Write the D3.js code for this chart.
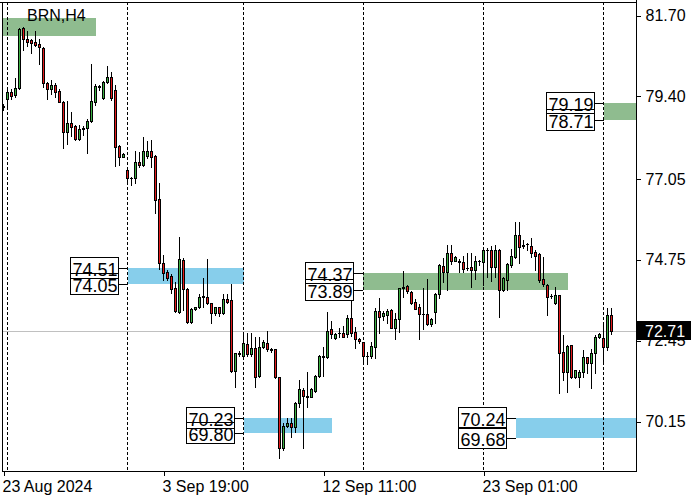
<!DOCTYPE html>
<html>
<head>
<meta charset="utf-8">
<script src="https://cdn.jsdelivr.net/npm/d3@7"></script>
<style>
  html, body { margin: 0; padding: 0; background: #fff; }
  svg { display: block; }
  text { font-family: "Liberation Sans", Arial, sans-serif; }
</style>
</head>
<body>
<script>
// ---------------- DATA ----------------
const symbolTitle = "BRN,H4";
const opens = [79.10,79.30,79.51,79.42,79.62,81.32,81.01,80.99,80.93,80.88,80.75,79.76,79.60,79.71,79.55,79.23,78.36,78.64,78.54,78.17,78.46,78.49,78.69,79.23,79.69,79.35,79.79,79.95,79.57,77.97,77.67,77.29,77.05,77.05,77.51,77.44,77.69,77.84,77.69,76.46,74.65,74.38,74.28,73.92,73.26,74.72,73.90,72.97,73.33,73.38,73.70,73.67,73.50,73.23,73.38,73.23,73.61,73.58,71.58,72.08,72.00,72.34,72.06,72.22,71.43,72.25,72.38,72.19,72.19,71.39,69.38,70.00,70.10,69.99,70.67,71.03,70.86,70.84,71.01,71.44,72.00,71.97,72.76,72.52,72.66,72.64,72.62,73.07,72.67,72.47,72.39,72.01,72.00,72.26,73.28,73.14,73.17,73.31,72.80,73.04,73.92,73.99,73.82,73.54,73.40,73.18,73.18,72.90,73.26,73.75,74.56,74.40,74.92,74.71,74.69,74.66,74.50,74.52,74.45,74.70,74.68,75.01,75.01,74.54,75.01,73.88,74.16,74.59,74.82,75.44,75.14,75.18,75.14,74.97,74.90,74.18,74.02,73.71,73.50,73.73,72.10,71.55,72.30,71.39,71.39,71.55,71.96,71.81,72.08,72.54,72.52,72.25,73.17];
const highs = [79.17,79.60,79.59,79.90,81.32,81.37,81.25,81.02,81.25,81.01,80.80,79.80,79.85,79.76,79.59,79.24,79.25,78.94,78.56,78.56,78.54,78.75,80.31,79.73,79.71,79.82,80.25,80.09,79.71,77.99,77.76,77.34,77.08,77.84,77.80,78.24,78.12,78.14,77.72,76.91,74.86,74.45,74.33,74.11,75.38,74.79,73.92,73.36,73.40,73.76,74.21,74.76,73.51,73.40,73.40,73.75,73.76,74.05,72.09,72.13,72.65,72.65,72.66,72.55,72.55,72.45,72.71,72.24,72.21,71.41,70.08,70.23,70.23,70.70,71.32,71.08,71.55,71.09,71.46,72.02,72.26,73.24,73.00,72.65,72.79,72.85,73.17,73.62,72.82,72.50,72.41,72.12,72.41,73.36,73.64,73.28,73.33,73.33,73.21,73.94,74.42,74.01,73.85,73.61,73.47,73.92,74.18,73.08,73.78,74.61,74.78,75.16,75.17,74.83,74.75,74.84,74.94,74.92,74.84,74.73,75.03,75.06,75.13,75.16,75.03,74.26,74.65,75.03,75.80,75.80,75.30,75.22,75.35,75.01,74.94,74.82,74.05,73.77,73.95,73.74,72.60,72.31,72.32,71.60,71.60,72.17,71.98,72.20,72.60,72.66,72.92,73.36,73.36];
const lows = [79.00,79.09,79.32,79.38,79.59,80.70,80.82,80.63,80.83,80.30,79.64,79.32,79.45,79.38,79.22,77.91,78.02,78.27,78.14,78.14,78.29,77.77,78.66,79.13,79.57,79.30,79.76,79.28,77.41,77.43,77.66,76.89,76.86,76.91,77.37,77.40,77.62,77.38,76.06,74.47,74.16,74.16,73.78,73.26,73.23,73.31,72.93,72.93,73.31,73.36,73.39,73.48,72.93,73.17,73.14,73.19,73.51,71.55,71.13,71.99,71.98,72.01,72.01,71.11,71.41,72.22,72.15,72.12,71.36,69.09,69.33,69.97,69.70,69.85,70.54,69.39,70.54,70.82,70.98,71.41,71.42,71.93,72.52,72.49,72.55,72.53,72.55,72.57,72.22,72.36,71.77,71.77,71.93,71.93,72.65,73.02,72.93,72.79,72.47,72.69,73.69,73.78,73.48,73.33,72.47,72.78,72.89,72.86,72.95,73.66,74.11,73.88,74.61,74.70,74.40,74.40,74.44,73.96,74.18,74.59,74.02,74.25,74.14,74.25,73.12,73.84,73.88,74.54,74.79,74.65,75.06,75.01,74.81,74.45,74.11,73.99,73.17,73.65,73.48,70.94,71.32,70.98,71.36,71.36,71.11,71.41,71.51,71.08,71.51,72.51,71.79,72.17,72.62];
const closes = [79.07,79.51,79.40,79.62,81.29,81.01,80.93,80.91,80.84,80.78,79.76,79.60,79.71,79.52,79.23,78.36,78.64,78.51,78.16,78.46,78.49,78.69,79.25,79.68,79.66,79.79,79.93,79.33,77.94,77.67,77.75,77.05,77.06,77.51,77.44,77.84,77.84,77.67,76.44,74.64,74.37,74.21,73.90,73.29,74.75,73.90,72.97,73.33,73.38,73.69,73.67,73.50,73.23,73.38,73.23,73.61,73.54,71.58,72.08,72.06,72.38,72.06,72.22,71.41,72.26,72.40,72.19,72.17,71.39,69.37,70.01,70.10,69.99,70.67,71.05,70.87,70.84,71.06,71.44,72.00,71.98,72.72,72.62,72.62,72.66,72.55,73.07,72.66,72.47,72.44,72.01,72.00,72.28,73.28,73.12,73.21,73.29,72.80,73.05,73.92,73.97,73.86,73.52,73.34,73.18,73.19,72.90,73.06,73.75,74.59,74.40,74.92,74.70,74.81,74.68,74.47,74.51,74.45,74.70,74.70,75.01,75.02,74.54,75.01,73.88,74.21,74.62,74.84,75.44,75.09,75.16,75.19,74.94,74.85,74.16,74.05,73.69,73.70,73.73,72.09,71.55,72.28,71.39,71.60,71.55,71.96,71.81,72.08,72.55,72.63,72.25,73.17,72.71];

const separatorBars = [1, 31, 60, 90, 120, 150];
const xTickBars = [0, 40, 80, 120];
const xTickLabels = ["23 Aug 2024", "3 Sep 19:00", "12 Sep 11:00", "23 Sep 01:00"];
const yTickValues = [81.70, 79.40, 77.05, 74.75, 72.45, 70.15];
const currentPrice = 72.71;

// zones (price levels + bar ranges)
const zoneHigh = [81.61, 74.51, 74.37, 79.19, 70.23, 70.24];
const zoneLow  = [81.11, 74.05, 73.89, 78.71, 69.80, 69.68];
const zoneFromBar = [-10, 31, 90, 150, 60, 128];
const zoneToBar   = [23, 60, 141, 170, 82, 170];
const zoneKind = ["supply", "demand", "supply", "supply", "demand", "demand"];
const zoneLabeled = [false, true, true, true, true, true];

// ---------------- LAYOUT ----------------
const W = 700, H = 500;
const pL = 2, pR = 636, pT = 2, pB = 471;
const bullColor = "#3cb043", bearColor = "#e31a1c";
const zoneColor = { supply: "#8fbc8f", demand: "#87ceeb" };

const svg = d3.select("body").append("svg").attr("width", W).attr("height", H);

const x = d3.scaleLinear().domain([0, 152]).range([3.5, 611.5]);
const y = d3.scaleLinear().domain([70.15, 81.70]).range([421, 15]);

svg.append("defs").append("clipPath").attr("id", "plot")
  .append("rect").attr("x", pL).attr("y", pT).attr("width", pR - pL).attr("height", pB - pT);

const plot = svg.append("g").attr("clip-path", "url(#plot)");

// zones
const zones = zoneHigh.map((h, i) => ({
  hi: h, lo: zoneLow[i], from: zoneFromBar[i], to: zoneToBar[i], kind: zoneKind[i], labeled: zoneLabeled[i]
}));
plot.selectAll("rect.zone").data(zones).join("rect").attr("class", "zone")
  .attr("x", d => Math.round(x(d.from)))
  .attr("y", d => Math.round(y(d.hi)))
  .attr("width", d => Math.round(x(d.to)) - Math.round(x(d.from)))
  .attr("height", d => Math.round(y(d.lo)) - Math.round(y(d.hi)))
  .attr("fill", d => zoneColor[d.kind]);

// period separators
plot.selectAll("line.sep").data(separatorBars).join("line").attr("class", "sep")
  .attr("x1", d => x(d)).attr("x2", d => x(d))
  .attr("y1", pT).attr("y2", pB)
  .attr("stroke", "#000").attr("stroke-width", 1).attr("stroke-dasharray", "3,2")
  .attr("shape-rendering", "crispEdges");

// current price line
plot.append("line")
  .attr("x1", pL).attr("x2", pR)
  .attr("y1", Math.round(y(currentPrice)) + 0.5).attr("y2", Math.round(y(currentPrice)) + 0.5)
  .attr("stroke", "#c0c0c0").attr("stroke-width", 1).attr("shape-rendering", "crispEdges");

// candles
const candles = opens.map((o, i) => ({ i, o, h: highs[i], l: lows[i], c: closes[i] }));
const cg = plot.selectAll("g.candle").data(candles).join("g").attr("class", "candle")
  .attr("shape-rendering", "crispEdges");
cg.append("line")
  .attr("x1", d => x(d.i)).attr("x2", d => x(d.i))
  .attr("y1", d => Math.round(y(d.h))).attr("y2", d => Math.round(y(d.l)) + 1)
  .attr("stroke", "#000").attr("stroke-width", 1);
cg.each(function (d) {
  const g = d3.select(this);
  const yt = Math.round(y(Math.max(d.o, d.c)));
  const yb = Math.round(y(Math.min(d.o, d.c)));
  if (yb - yt < 1) {
    g.append("line")
      .attr("x1", x(d.i) - 1.5).attr("x2", x(d.i) + 1.5)
      .attr("y1", yt + 0.5).attr("y2", yt + 0.5)
      .attr("stroke", "#000").attr("stroke-width", 1);
  } else {
    g.append("rect")
      .attr("x", x(d.i) - 1).attr("y", yt + 0.5)
      .attr("width", 2).attr("height", yb - yt)
      .attr("fill", d.c >= d.o ? bullColor : bearColor)
      .attr("stroke", "#000").attr("stroke-width", 1);
  }
});

// frame
const frame = svg.append("g").attr("shape-rendering", "crispEdges").attr("stroke", "#000");
frame.append("line").attr("x1", pL + 0.5).attr("x2", pL + 0.5).attr("y1", pT).attr("y2", pB + 1);
frame.append("line").attr("x1", pR + 0.5).attr("x2", pR + 0.5).attr("y1", 0).attr("y2", pB + 1);
frame.append("line").attr("x1", pL).attr("x2", pR + 1).attr("y1", pB + 0.5).attr("y2", pB + 0.5);
frame.append("line").attr("x1", 0).attr("x2", pR + 1).attr("y1", pT + 0.5).attr("y2", pT + 0.5);

// y axis
const yAxis = d3.axisRight(y).tickValues(yTickValues).tickFormat(d3.format(".2f")).tickSize(4).tickPadding(5);
const yg = svg.append("g").attr("transform", `translate(${pR + 0.5},0.5)`).call(yAxis);
yg.select(".domain").remove();
yg.selectAll("line").attr("shape-rendering", "crispEdges");
yg.selectAll("text").attr("font-size", 16).attr("font-family", "Liberation Sans, Arial, sans-serif").attr("fill", "#000");

// x axis
const xAxis = d3.axisBottom(x).tickValues(xTickBars).tickFormat((d, i) => xTickLabels[i]).tickSize(4).tickPadding(5);
const xg = svg.append("g").attr("transform", `translate(0,${pB + 0.5})`).call(xAxis);
xg.select(".domain").remove();
xg.selectAll("line").attr("shape-rendering", "crispEdges");
xg.selectAll("text").attr("text-anchor", "start").attr("dx", -1.5).attr("font-size", 16)
  .attr("font-family", "Liberation Sans, Arial, sans-serif").attr("fill", "#000");

// zone labels
const labelBoxW = 48, labelBoxH = 21;
zones.filter(d => d.labeled).forEach(d => {
  const zx = Math.round(x(d.from));
  const bx = zx - 10 - labelBoxW;
  const levels = [d.hi, d.lo];
  const g = svg.append("g");
  levels.forEach(v => {
    const ly = Math.round(y(v)) + 0.5;
    g.append("line").attr("x1", bx + labelBoxW).attr("x2", zx).attr("y1", ly).attr("y2", ly)
      .attr("stroke", "#000").attr("shape-rendering", "crispEdges");
  });
  levels.forEach(v => {
    const ly = Math.round(y(v));
    g.append("rect").attr("x", bx + 0.5).attr("y", ly - 11 + 0.5).attr("width", labelBoxW).attr("height", labelBoxH)
      .attr("fill", "#fff").attr("stroke", "none");
  });
  levels.forEach(v => {
    const ly = Math.round(y(v));
    g.append("rect").attr("x", bx + 0.5).attr("y", ly - 11 + 0.5).attr("width", labelBoxW).attr("height", labelBoxH)
      .attr("fill", "none").attr("stroke", "#000").attr("shape-rendering", "crispEdges");
    g.append("text").attr("x", bx + labelBoxW / 2 + 1).attr("y", ly + 8)
      .attr("text-anchor", "middle").attr("font-size", 18).attr("fill", "#000")
      .text(d3.format(".2f")(v));
  });
});

// title
svg.append("text").attr("x", 27).attr("y", 21).attr("font-size", 16).attr("fill", "#000").text(symbolTitle);

// current price tag
const cy = Math.round(y(currentPrice));
svg.append("rect").attr("x", pR + 1).attr("y", cy - 10).attr("width", 54).attr("height", 19).attr("fill", "#000");
svg.append("text").attr("x", pR + 9).attr("y", cy + 6).attr("font-size", 16).attr("fill", "#fff")
  .text(d3.format(".2f")(currentPrice));
</script>
</body>
</html>
